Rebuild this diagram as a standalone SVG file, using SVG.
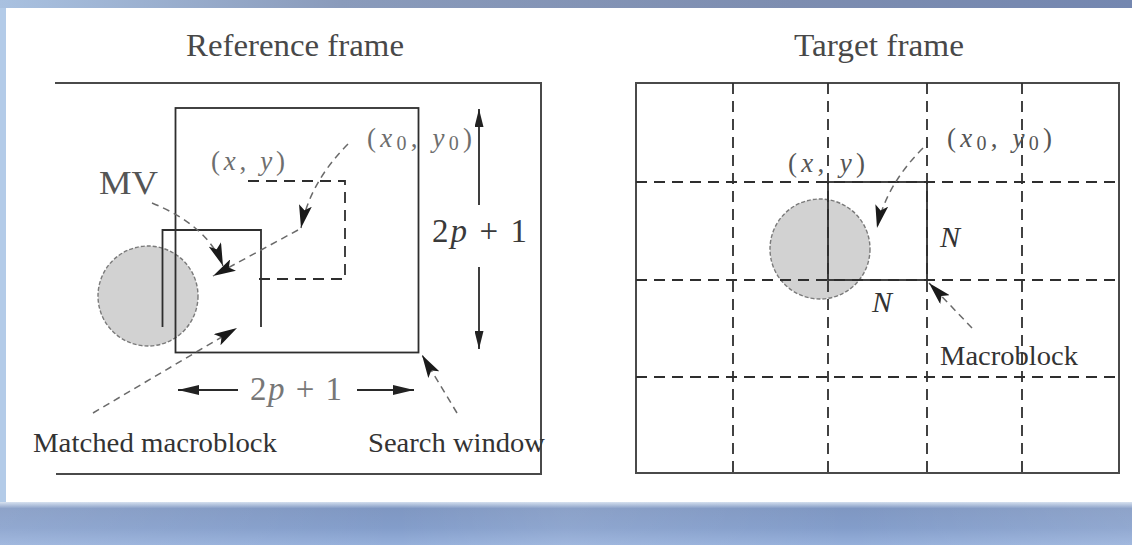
<svg xmlns="http://www.w3.org/2000/svg" width="1132" height="545" viewBox="0 0 1132 545">
<defs>
<linearGradient id="topGrad" x1="0" y1="0" x2="1" y2="0">
<stop offset="0" stop-color="#a9c1e0"/>
<stop offset="0.3" stop-color="#8a9bbb"/>
<stop offset="0.7" stop-color="#7d8db0"/>
<stop offset="1" stop-color="#7487b0"/>
</linearGradient>
<linearGradient id="botGrad" x1="0" y1="0" x2="0" y2="1">
<stop offset="0" stop-color="#d2deee"/>
<stop offset="0.15" stop-color="#7f97c2"/>
<stop offset="0.6" stop-color="#839dca"/>
<stop offset="1" stop-color="#95afda"/>
</linearGradient>
<linearGradient id="botGradH" x1="0" y1="0" x2="1" y2="0">
<stop offset="0" stop-color="#ffffff" stop-opacity="0.12"/>
<stop offset="0.35" stop-color="#ffffff" stop-opacity="0"/>
<stop offset="0.5" stop-color="#ffffff" stop-opacity="0.1"/>
<stop offset="0.75" stop-color="#ffffff" stop-opacity="0"/>
<stop offset="1" stop-color="#ffffff" stop-opacity="0.12"/>
</linearGradient>
<marker id="ahN" markerUnits="userSpaceOnUse" markerWidth="18" markerHeight="9" refX="18" refY="4.5" orient="auto">
<path d="M0,0 L18,4.5 L0,9 z" fill="#222"/>
</marker>
<marker id="ahW" markerUnits="userSpaceOnUse" markerWidth="21" markerHeight="10" refX="21" refY="5" orient="auto">
<path d="M0,0 L21,5 L0,10 z" fill="#222"/>
</marker>
<marker id="ahP" markerUnits="userSpaceOnUse" markerWidth="23" markerHeight="13" refX="23" refY="6.5" orient="auto">
<path d="M0,0 L23,6.5 L0,13 L5,6.5 z" fill="#1a1a1a"/>
</marker>
</defs>
<style>
.frame{fill:none;stroke:#4a4a4a;stroke-width:2}
.solid{fill:none;stroke:#2e2e2e;stroke-width:1.8}
.dash{fill:none;stroke:#2e2e2e;stroke-width:1.8;stroke-dasharray:11 7}
.blob{fill:#d2d2d2;stroke:#7a7a7a;stroke-width:1.4;stroke-dasharray:4 2}
.ptr{fill:none;stroke:#6a6a6a;stroke-width:1.5;stroke-dasharray:7 5}
.arr{fill:none;stroke:#2a2a2a;stroke-width:1.8}
.lbl{font-family:"Liberation Serif","Times New Roman",serif;font-size:27px;fill:#333}
.ttl{font-family:"Liberation Serif","Times New Roman",serif;font-size:31px;fill:#484848}
.math{font-family:"Liberation Serif","Times New Roman",serif;font-size:27px;fill:#6e6e6e}
.it{font-style:italic}
.big{font-family:"Liberation Serif","Times New Roman",serif;font-size:33px;fill:#3a3a3a}
</style>
<!-- background -->
<rect x="0" y="0" width="1132" height="545" fill="#ffffff"/>
<rect x="0" y="0" width="1132" height="8" fill="url(#topGrad)"/>
<rect x="0" y="8" width="6" height="494" fill="#b3cbe8"/>
<rect x="0" y="502" width="1132" height="43" fill="url(#botGrad)"/>
<rect x="0" y="502" width="1132" height="43" fill="url(#botGradH)"/>

<g id="title-reference"><text class="ttl" x="186" y="56" textLength="218" lengthAdjust="spacingAndGlyphs">Reference frame</text></g>
<g id="title-target"><text class="ttl" x="794" y="56" textLength="170" lengthAdjust="spacingAndGlyphs">Target frame</text></g>

<!-- Reference frame -->
<g id="reference-frame"><path class="frame" d="M55,83 H541 V474 H56"/></g>
<g id="ref-object"><circle class="blob" cx="148" cy="296" r="50"/></g>
<g id="search-window"><rect class="solid" x="175.5" y="108" width="243" height="244.5"/></g>
<g id="original-block"><path class="dash" d="M248,181 H345 V279 H258"/></g>
<g id="matched-block"><path class="solid" d="M162.5,327 V230 H261 V327"/></g>

<!-- Target frame -->
<g id="target-frame">
<circle class="blob" cx="820" cy="249" r="50"/>
<rect class="frame" x="636" y="83" width="483" height="390"/>
</g>
<g id="target-grid">
<path class="dash" d="M733,83 V473 M828,83 V473 M927,83 V473 M1022,83 V473"/>
<path class="dash" d="M636,182 H1119 M636,280 H1119 M636,377 H1119"/>
</g>
<g id="macroblock"><rect class="solid" x="828" y="182" width="99" height="98" stroke-width="2.2"/></g>

<!-- connectors -->
<g id="connectors">
<path class="arr" d="M479,205 V109" marker-end="url(#ahN)"/>
<path class="arr" d="M479,267 V349" marker-end="url(#ahN)"/>
<path class="arr" d="M238,390 H178" marker-end="url(#ahW)"/>
<path class="arr" d="M357,390 H414" marker-end="url(#ahW)"/>
<path class="ptr" d="M298,230 L213,276" marker-end="url(#ahP)"/>
<path class="ptr" d="M348,144 Q310,182 301,228" marker-end="url(#ahP)"/>
<path class="ptr" d="M152,203 Q208,226 223,266" marker-end="url(#ahP)"/>
<path class="ptr" d="M93,413 L237,328" marker-end="url(#ahP)"/>
<path class="ptr" d="M457,413 L422,355" marker-end="url(#ahP)"/>
<path class="ptr" d="M923,148 Q886,185 877,228" marker-end="url(#ahP)"/>
<path class="ptr" d="M972,328 L929,283" marker-end="url(#ahP)"/>
</g>

<!-- labels -->
<g id="labels">
<text class="big" x="99" y="194" textLength="59" lengthAdjust="spacingAndGlyphs" style="fill:#555">MV</text>
<text class="math" x="211" y="170" textLength="74" lengthAdjust="spacing">(<tspan class="it">x</tspan>, <tspan class="it">y</tspan>)</text>
<text class="math" x="367" y="147" textLength="105" lengthAdjust="spacing">(<tspan class="it">x</tspan><tspan font-size="20" dy="3">0</tspan><tspan dy="-3">, </tspan><tspan class="it">y</tspan><tspan font-size="20" dy="3">0</tspan><tspan dy="-3">)</tspan></text>
<text class="big" x="432" y="242" textLength="95" lengthAdjust="spacing">2<tspan class="it">p</tspan> + 1</text>
<text class="big" x="250" y="400" textLength="92" lengthAdjust="spacing" style="fill:#777">2<tspan class="it">p</tspan> + 1</text>
<text class="lbl" x="33" y="452" textLength="244" lengthAdjust="spacingAndGlyphs">Matched macroblock</text>
<text class="lbl" x="368" y="452" textLength="177" lengthAdjust="spacingAndGlyphs">Search window</text>
<text class="math" x="788" y="172" textLength="77" lengthAdjust="spacing" style="fill:#555">(<tspan class="it">x</tspan>, <tspan class="it">y</tspan>)</text>
<text class="math" x="947" y="147" textLength="105" lengthAdjust="spacing" style="fill:#555">(<tspan class="it">x</tspan><tspan font-size="20" dy="3">0</tspan><tspan dy="-3">, </tspan><tspan class="it">y</tspan><tspan font-size="20" dy="3">0</tspan><tspan dy="-3">)</tspan></text>
<text class="lbl it" x="940" y="247" style="font-size:30px">N</text>
<text class="lbl it" x="872" y="312" style="font-size:30px">N</text>
<text class="lbl" x="940" y="365" textLength="138" lengthAdjust="spacingAndGlyphs">Macroblock</text>
</g>
</svg>
